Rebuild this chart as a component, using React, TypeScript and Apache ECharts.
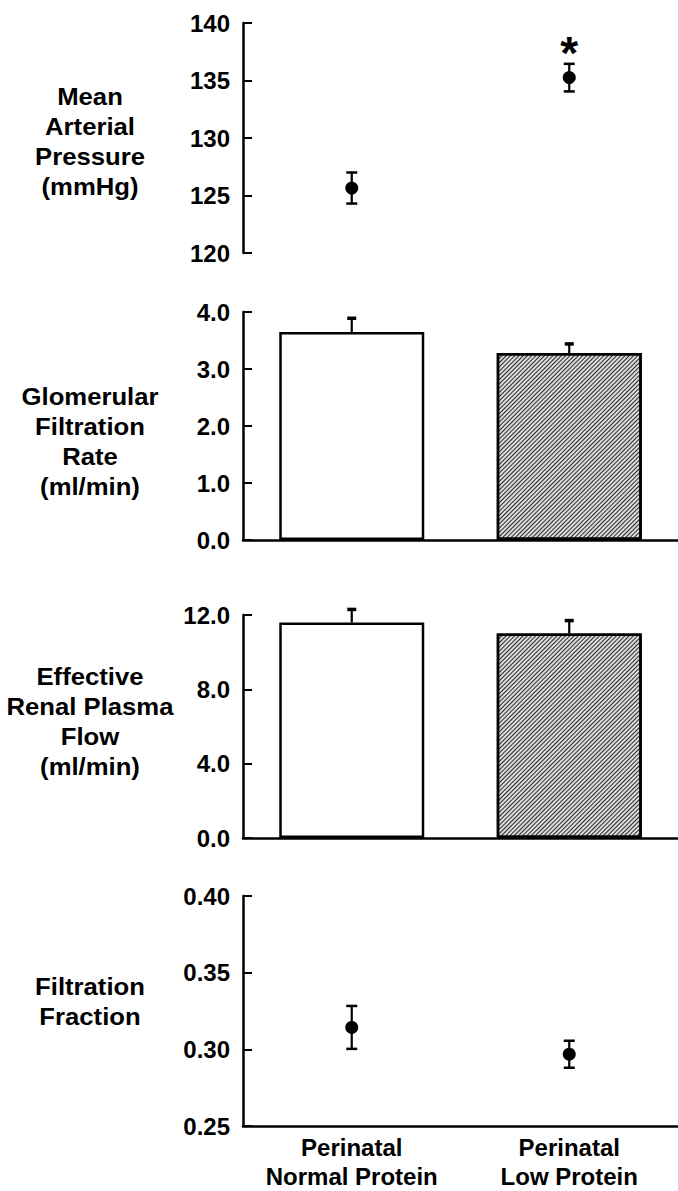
import React, { useEffect, useRef } from "react";
import * as echarts from "echarts";

const categories = ["Perinatal\nNormal Protein", "Perinatal\nLow Protein"];

const mapMean = [125.65, 135.25];
const mapSem = [1.35, 1.2];
const mapStar = [null, 137.9];

const gfrMean = [3.65, 3.28];
const gfrSem = [0.24, 0.16];

const erpfMean = [11.6, 11.0];
const erpfSem = [0.7, 0.7];

const ffMean = [0.3143, 0.2968];
const ffSem = [0.014, 0.0088];

const panelTitles = [
  "Mean\nArterial\nPressure\n(mmHg)",
  "Glomerular\nFiltration\nRate\n(ml/min)",
  "Effective\nRenal Plasma\nFlow\n(ml/min)",
  "Filtration\nFraction",
];

const yMin = [120, 0, 0, 0.25];
const yMax = [140, 4, 12, 0.4];
const yInterval = [5, 1, 4, 0.05];
const yDecimals = [0, 1, 1, 2];

const FONT = '"Liberation Sans", Arial, Helvetica, sans-serif';

export default function App() {
  const ref = useRef<HTMLDivElement>(null);
  useEffect(() => {
    document.body.style.margin = "0";
    const chart = echarts.init(ref.current!, null, { renderer: "svg" });

    const grids = [
      { left: 243, top: 23, width: 436, height: 230 },
      { left: 243, top: 312, width: 436, height: 228 },
      { left: 243, top: 615, width: 436, height: 223 },
      { left: 243, top: 896, width: 436, height: 231 },
    ];

    const xAxes = grids.map((_, i) => ({
      type: "category",
      gridIndex: i,
      data: categories,
      boundaryGap: true,
      axisLine: { show: i > 0, lineStyle: { color: "#000", width: 2.5 } },
      axisTick: { show: false },
      axisLabel: {
        show: i === 3,
        interval: 0,
        color: "#000",
        fontFamily: FONT,
        fontWeight: "bold",
        fontSize: 24,
        lineHeight: 29,
        margin: 7,
      },
    }));

    const yAxes = grids.map((_, i) => ({
      type: "value",
      gridIndex: i,
      min: yMin[i],
      max: yMax[i],
      interval: yInterval[i],
      splitLine: { show: false },
      axisLine: { show: true, lineStyle: { color: "#000", width: 2.5 } },
      axisTick: { show: true, inside: true, length: 9, lineStyle: { color: "#000", width: 2 } },
      axisLabel: {
        color: "#000",
        fontFamily: FONT,
        fontWeight: "bold",
        fontSize: 24,
        margin: 13,
        formatter: (v: number) => v.toFixed(yDecimals[i]),
      },
    }));

    const errorSeries = (
      idx: number,
      mean: number[],
      sem: number[],
      both: boolean
    ) => ({
      type: "custom",
      xAxisIndex: idx,
      yAxisIndex: idx,
      z: 1,
      data: mean.map((m, k) => [k, m, sem[k]]),
      renderItem: (params: any, api: any) => {
        const x = api.value(0);
        const m = api.value(1);
        const s = api.value(2);
        const top = api.coord([x, m + s]);
        const bot = api.coord([x, both ? m - s : m]);
        const cap = both ? 5.5 : 4.5;
        const capW = both ? 2.5 : 3.5;
        const children: any[] = [
          {
            type: "line",
            shape: { x1: top[0], y1: top[1], x2: bot[0], y2: bot[1] },
            style: { stroke: "#000", lineWidth: 2.2 },
          },
          {
            type: "line",
            shape: { x1: top[0] - cap, y1: top[1], x2: top[0] + cap, y2: top[1] },
            style: { stroke: "#000", lineWidth: capW },
          },
        ];
        if (both) {
          children.push({
            type: "line",
            shape: { x1: bot[0] - cap, y1: bot[1], x2: bot[0] + cap, y2: bot[1] },
            style: { stroke: "#000", lineWidth: capW },
          });
        }
        return { type: "group", children };
      },
    });

    const dotSeries = (idx: number, mean: number[]) => ({
      type: "scatter",
      xAxisIndex: idx,
      yAxisIndex: idx,
      symbol: "circle",
      symbolSize: 13,
      z: 3,
      itemStyle: { color: "#000", opacity: 1 },
      data: mean,
    });

    const hatch = {
      symbol: "rect",
      symbolSize: 1,
      dashArrayX: [1, 0],
      dashArrayY: [1, 2],
      rotation: -Math.PI / 4,
      color: "#2a2a2a",
    };

    const barSeries = (idx: number, mean: number[]) => ({
      type: "bar",
      xAxisIndex: idx,
      yAxisIndex: idx,
      barWidth: 145,
      z: 2,
      data: mean.map((v, k) => ({
        value: v,
        itemStyle:
          k === 0
            ? { color: "#fff", borderColor: "#000", borderWidth: 2.5 }
            : { color: "#dcdcdc", borderColor: "#000", borderWidth: 2.5, decal: hatch },
      })),
    });

    const titleGraphics = panelTitles.map((t, i) => ({
      type: "text",
      x: 90,
      y: [82, 382, 662, 972][i],
      scaleX: 1.07,
      style: {
        text: t,
        x: 0,
        y: 0,
        textAlign: "center",
        textVerticalAlign: "top",
        lineHeight: 30,
        fill: "#000",
        font: `bold 24px ${FONT}`,
      },
    }));

    chart.setOption({
      animation: false,
      backgroundColor: "#fff",
      grid: grids,
      xAxis: xAxes,
      yAxis: yAxes,
      graphic: titleGraphics,
      series: [
        errorSeries(0, mapMean, mapSem, true),
        dotSeries(0, mapMean),
        {
          type: "scatter",
          xAxisIndex: 0,
          yAxisIndex: 0,
          symbolSize: 1,
          itemStyle: { color: "rgba(0,0,0,0)", opacity: 1 },
          data: mapStar,
          label: {
            show: true,
            position: "inside",
            formatter: "*",
            color: "#000",
            opacity: 1,
            fontFamily: FONT,
            fontWeight: "bold",
            fontSize: 46,
            offset: [0, 6],
          },
        },
        barSeries(1, gfrMean),
        errorSeries(1, gfrMean, gfrSem, false),
        barSeries(2, erpfMean),
        errorSeries(2, erpfMean, erpfSem, false),
        errorSeries(3, ffMean, ffSem, true),
        dotSeries(3, ffMean),
      ],
    });
    return () => chart.dispose();
  }, []);
  return <div ref={ref} style={{ width: 678, height: 1191 }} />;
}
